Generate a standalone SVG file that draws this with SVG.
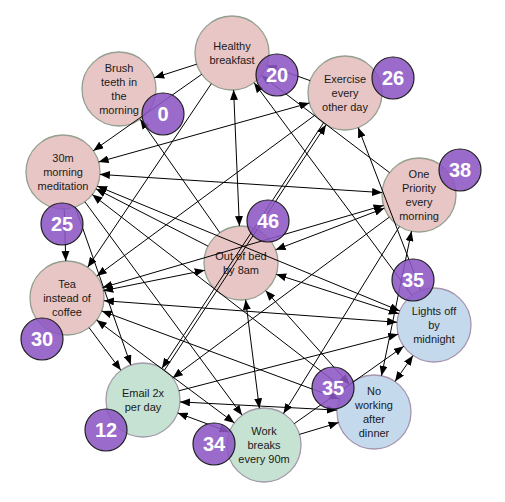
<svg xmlns="http://www.w3.org/2000/svg" width="505" height="502" viewBox="0 0 505 502">
<style>
.bg{fill:#ffffff}
.n circle{stroke-width:1.3}
.pink{fill:#e8c6c5;stroke:#93a08f}
.green{fill:#c6e2d3;stroke:#a39aa8}
.blue{fill:#c5d9ec;stroke:#a795b0}
.n text{font-family:"Liberation Sans",Arial,sans-serif;font-size:11px;fill:#1a1a1a;text-anchor:middle}
#edges line{stroke:#000;stroke-width:1;fill:none}
.e{marker-end:url(#ah)}
.b{marker-end:url(#ah);marker-start:url(#ah)}
.bd circle{fill:#8c57c4;fill-opacity:0.88;stroke:#1e1e1e;stroke-width:1.2}
.bd text{font-family:"Liberation Sans",Arial,sans-serif;font-size:20px;font-weight:bold;fill:#ffffff;text-anchor:middle}
</style>
<defs>
<marker id="ah" markerUnits="userSpaceOnUse" markerWidth="10" markerHeight="8" refX="10" refY="4" orient="auto-start-reverse" viewBox="0 0 10 8">
<path d="M0,0 L10,4 L0,8 z" fill="#000"/>
</marker>
</defs>
<rect class="bg" x="0" y="0" width="505" height="502"/>

<g id="node-brush" class="n"><circle class="pink" cx="119" cy="89" r="37"/><text x="119" y="72">Brush</text><text x="119" y="86">teeth in</text><text x="119" y="100">the</text><text x="119" y="114">morning</text></g>
<g id="node-healthy" class="n"><circle class="pink" cx="232" cy="53" r="37"/><text x="232" y="50">Healthy</text><text x="232" y="64">breakfast</text></g>
<g id="node-exercise" class="n"><circle class="pink" cx="345" cy="93" r="37"/><text x="345" y="83">Exercise</text><text x="345" y="97">every</text><text x="345" y="111">other day</text></g>
<g id="node-priority" class="n"><circle class="pink" cx="419" cy="195" r="37"/><text x="419" y="178">One</text><text x="419" y="192">Priority</text><text x="419" y="206">every</text><text x="419" y="220">morning</text></g>
<g id="node-meditation" class="n"><circle class="pink" cx="63" cy="172" r="37"/><text x="63" y="162">30m</text><text x="63" y="176">morning</text><text x="63" y="190">meditation</text></g>
<g id="node-tea" class="n"><circle class="pink" cx="67" cy="298" r="37"/><text x="67" y="288">Tea</text><text x="67" y="302">instead of</text><text x="67" y="316">coffee</text></g>
<g id="node-outofbed" class="n"><circle class="pink" cx="241" cy="263" r="37"/><text x="241" y="260">Out of bed</text><text x="241" y="274">by 8am</text></g>
<g id="node-lights" class="n"><circle class="blue" cx="434" cy="325" r="37"/><text x="434" y="315">Lights off</text><text x="434" y="329">by</text><text x="434" y="343">midnight</text></g>
<g id="node-email" class="n"><circle class="green" cx="143" cy="400" r="37"/><text x="143" y="397">Email 2x</text><text x="143" y="411">per day</text></g>
<g id="node-work" class="n"><circle class="green" cx="264" cy="445" r="37"/><text x="264" y="435">Work</text><text x="264" y="449">breaks</text><text x="264" y="463">every 90m</text></g>
<g id="node-nowork" class="n"><circle class="blue" cx="374" cy="412" r="37"/><text x="374" y="395">No</text><text x="374" y="409">working</text><text x="374" y="423">after</text><text x="374" y="437">dinner</text></g>

<g id="edges">
<line class="e" x1="196.7" y1="64.2" x2="154.3" y2="77.8"/>
<line class="e" x1="219.8" y1="232.7" x2="140.2" y2="119.3"/>
<line class="e" x1="201.7" y1="74.3" x2="93.3" y2="150.7"/>
<line class="b" x1="98.6" y1="162" x2="309.4" y2="103"/>
<line class="b" x1="99.9" y1="174.4" x2="382.1" y2="192.6"/>
<line class="e" x1="208.1" y1="246.2" x2="95.9" y2="188.8"/>
<line class="b" x1="399.8" y1="310.9" x2="97.2" y2="186.1"/>
<line class="e" x1="344.7" y1="389.4" x2="92.3" y2="194.6"/>
<line class="e" x1="64.2" y1="209" x2="65.8" y2="261"/>
<line class="e" x1="75.2" y1="206.9" x2="130.8" y2="365.1"/>
<line class="e" x1="84.9" y1="201.8" x2="242.1" y2="415.2"/>
<line class="b" x1="233.6" y1="90" x2="239.4" y2="226"/>
<line class="e" x1="411.9" y1="295.3" x2="254.1" y2="82.7"/>
<line class="e" x1="310.1" y1="80.6" x2="266.9" y2="65.4"/>
<line class="e" x1="389.5" y1="172.6" x2="261.5" y2="75.4"/>
<line class="e" x1="211.3" y1="83.7" x2="87.7" y2="267.3"/>
<line class="e" x1="164.6" y1="370" x2="326" y2="124.8"/>
<line class="e" x1="323.4" y1="123" x2="162" y2="368.2"/>
<line class="e" x1="420.8" y1="290.4" x2="358.2" y2="127.6"/>
<line class="e" x1="315.2" y1="115" x2="96.8" y2="276"/>
<line class="b" x1="102.5" y1="287.6" x2="383.5" y2="205.4"/>
<line class="b" x1="275.6" y1="249.8" x2="384.4" y2="208.2"/>
<line class="b" x1="381.5" y1="375.8" x2="411.5" y2="231.2"/>
<line class="e" x1="389.3" y1="217.1" x2="172.7" y2="377.9"/>
<line class="e" x1="399.5" y1="226.4" x2="283.5" y2="413.6"/>
<line class="b" x1="276.2" y1="274.3" x2="398.8" y2="313.7"/>
<line class="b" x1="103.9" y1="300.7" x2="397.1" y2="322.3"/>
<line class="e" x1="178.8" y1="390.8" x2="398.2" y2="334.2"/>
<line class="e" x1="294.2" y1="423.7" x2="403.8" y2="346.3"/>
<line class="b" x1="395" y1="381.5" x2="413" y2="355.5"/>
<line class="e" x1="89.1" y1="327.7" x2="120.9" y2="370.3"/>
<line class="b" x1="103.3" y1="290.7" x2="204.7" y2="270.3"/>
<line class="b" x1="96.6" y1="320.1" x2="234.4" y2="422.9"/>
<line class="b" x1="101.7" y1="310.9" x2="339.3" y2="399.1"/>
<line class="b" x1="265.6" y1="290.6" x2="349.4" y2="384.4"/>
<line class="b" x1="245.6" y1="299.7" x2="259.4" y2="408.3"/>
<line class="b" x1="180" y1="401.9" x2="337" y2="410.1"/>
<line class="b" x1="229.3" y1="432.1" x2="177.7" y2="412.9"/>
<line class="e" x1="299.4" y1="434.4" x2="338.6" y2="422.6"/>
</g>

<g id="badge-brush" class="bd"><circle cx="163" cy="114" r="21"/><text x="163" y="121">0</text></g>
<g id="badge-healthy" class="bd"><circle cx="277" cy="75" r="21"/><text x="277" y="82">20</text></g>
<g id="badge-exercise" class="bd"><circle cx="393" cy="78" r="21"/><text x="393" y="85">26</text></g>
<g id="badge-priority" class="bd"><circle cx="460" cy="170" r="21"/><text x="460" y="177">38</text></g>
<g id="badge-meditation" class="bd"><circle cx="62" cy="224" r="21"/><text x="62" y="231">25</text></g>
<g id="badge-tea" class="bd"><circle cx="42" cy="339" r="21"/><text x="42" y="346">30</text></g>
<g id="badge-outofbed" class="bd"><circle cx="268" cy="221" r="21"/><text x="268" y="228">46</text></g>
<g id="badge-lights" class="bd"><circle cx="413" cy="280" r="21"/><text x="413" y="287">35</text></g>
<g id="badge-email" class="bd"><circle cx="106" cy="430" r="21"/><text x="106" y="437">12</text></g>
<g id="badge-work" class="bd"><circle cx="214" cy="444" r="21"/><text x="214" y="451">34</text></g>
<g id="badge-nowork" class="bd"><circle cx="333" cy="388" r="21"/><text x="333" y="395">35</text></g>
</svg>
